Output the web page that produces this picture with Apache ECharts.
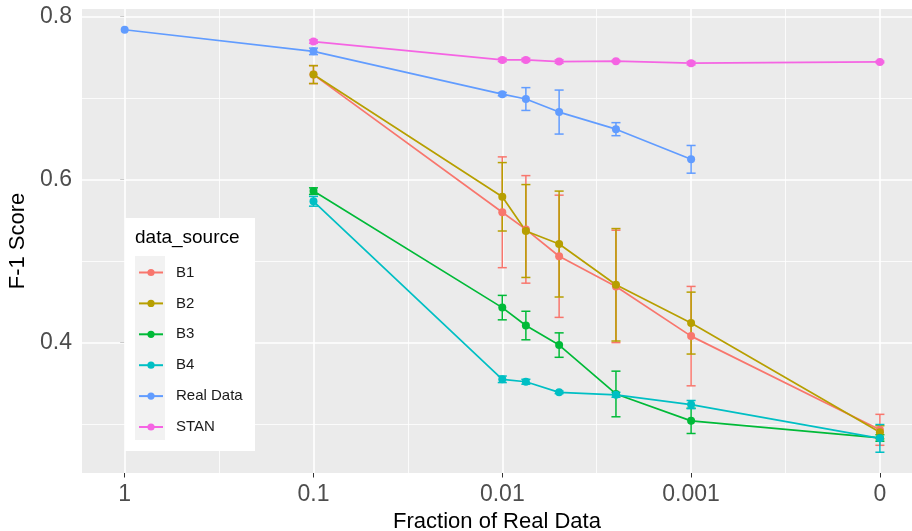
<!DOCTYPE html>
<html>
<head>
<meta charset="utf-8">
<script src="https://cdn.jsdelivr.net/npm/echarts@6/dist/echarts.min.js"></script>
<style>
  html, body { margin: 0; padding: 0; background: #fff; }
  #chart { width: 912px; height: 531px; }
</style>
</head>
<body>
<div id="chart"></div>
<script>
// fraction of real data used, drawn on a reversed log scale (0 sits one decade past 0.001)
const fractions = [1, 0.1, 0.01, 0.0075, 0.005, 0.0025, 0.001, 0]
const xTickValues = [0, 1, 2, 3, 4]
const xTickLabels = ['1', '0.1', '0.01', '0.001', '0']
const yTickValues = [0.4, 0.6, 0.8]

const b1 = [null, 0.729, 0.560, 0.539, 0.506, 0.469, 0.408, 0.293]
const b1Err = [null, 0.011, 0.068, 0.066, 0.075, 0.069, 0.061, 0.019]
const b2 = [null, 0.729, 0.579, 0.537, 0.521, 0.471, 0.424, 0.290]
const b2Err = [null, 0.011, 0.042, 0.057, 0.065, 0.069, 0.038, 0.008]
const b3 = [null, 0.586, 0.443, 0.421, 0.397, 0.337, 0.304, 0.283]
const b3Err = [null, 0.004, 0.015, 0.0175, 0.015, 0.028, 0.0155, 0.004]
const b4 = [null, 0.5735, 0.355, 0.352, 0.339, 0.336, 0.324, 0.2825]
const b4Err = [null, 0.006, 0.004, 0.003, 0.0015, 0.003, 0.005, 0.017]
const realData = [0.784, 0.7575, 0.705, 0.699, 0.683, 0.662, 0.625, null]
const realDataErr = [0, 0.004, 0.002, 0.014, 0.027, 0.008, 0.017, null]
const stan = [null, 0.7695, 0.747, 0.747, 0.745, 0.7455, 0.743, 0.7445]
const stanErr = [null, 0.002, 0.002, 0.002, 0.002, 0.001, 0.002, 0.001]

const groups = [
  { name: 'B1', values: b1, errs: b1Err, color: '#F8766D' },
  { name: 'B2', values: b2, errs: b2Err, color: '#B79F00' },
  { name: 'B3', values: b3, errs: b3Err, color: '#00BA38' },
  { name: 'B4', values: b4, errs: b4Err, color: '#00BFC4' },
  { name: 'Real Data', values: realData, errs: realDataErr, color: '#619CFF' },
  { name: 'STAN', values: stan, errs: stanErr, color: '#F564E3' }
]

const xPos = f => f === 0 ? 4 : -Math.log10(f)
const capHalf = 0.024 // errorbar cap half width, in x units

const lineSeries = g => ({
  name: g.name,
  type: 'line',
  data: fractions.map((f, i) => g.values[i] == null ? null : [xPos(f), g.values[i]]).filter(Boolean),
  symbol: 'circle',
  symbolSize: 8,
  lineStyle: { width: 1.7, color: g.color },
  itemStyle: { color: g.color },
  emphasis: { disabled: true },
  z: 4
})

const errSeries = g => ({
  name: g.name + ' err',
  type: 'custom',
  data: fractions.map((f, i) => g.errs[i] ? [xPos(f), g.values[i] - g.errs[i], g.values[i] + g.errs[i]] : null).filter(Boolean),
  encode: { x: 0, y: [1, 2] },
  renderItem(params, api) {
    const x = api.value(0)
    const lo = api.coord([x, api.value(1)])
    const hi = api.coord([x, api.value(2)])
    const hw = api.size([capHalf, 0])[0]
    const style = { stroke: g.color, lineWidth: 1.5 }
    return {
      type: 'group',
      children: [
        { type: 'line', shape: { x1: lo[0], y1: lo[1], x2: hi[0], y2: hi[1] }, style },
        { type: 'line', shape: { x1: lo[0] - hw, y1: lo[1], x2: lo[0] + hw, y2: lo[1] }, style },
        { type: 'line', shape: { x1: hi[0] - hw, y1: hi[1], x2: hi[0] + hw, y2: hi[1] }, style }
      ]
    }
  },
  z: 3
})

// ggplot style panel grid, major and minor
const major = { color: '#fff', width: 1.6, type: 'solid' }
const minor = { color: '#fff', width: 0.8, type: 'solid' }
const gridSeries = {
  name: 'grid',
  type: 'line',
  data: [],
  silent: true,
  z: 1,
  markLine: {
    z: 1,
    silent: true,
    symbol: 'none',
    label: { show: false },
    animation: false,
    data: [
      ...[0, 1, 2, 3, 4].map(v => ({ xAxis: v, lineStyle: major })),
      ...[0.5, 1.5, 2.5, 3.5].map(v => ({ xAxis: v, lineStyle: minor })),
      ...[0.4, 0.6, 0.8].map(v => ({ yAxis: v, lineStyle: major })),
      ...[0.3, 0.5, 0.7].map(v => ({ yAxis: v, lineStyle: minor }))
    ]
  }
}

const chart = echarts.init(document.getElementById('chart'))
chart.setOption({
  animation: false,
  textStyle: { fontFamily: 'Liberation Sans, Arial, sans-serif' },
  grid: {
    left: 82,
    top: 9,
    right: 0,
    bottom: 58,
    outerBoundsMode: 'none',
    show: true,
    backgroundColor: '#EBEBEB',
    borderWidth: 0
  },
  legend: {
    data: groups.map(g => g.name),
    orient: 'vertical',
    left: 138,
    top: 264.5,
    padding: 0,
    z: 20,
    itemWidth: 24,
    itemHeight: 9,
    itemGap: 14.9,
    selectedMode: false,
    textStyle: { fontSize: 15, lineHeight: 16, color: '#1A1A1A', padding: [0, 0, 0, 8] }
  },
  graphic: [
    { type: 'rect', left: 125, top: 218, shape: { width: 130, height: 233 }, style: { fill: '#fff' }, z: 5 },
    { type: 'rect', left: 135, top: 256, shape: { width: 30, height: 184 }, style: { fill: '#F2F2F2' }, z: 5 },
    { type: 'text', left: 135, top: 228, style: { text: 'data_source', fontSize: 19, fill: '#000', fontFamily: 'Liberation Sans, Arial, sans-serif' }, z: 5 }
  ],
  xAxis: {
    type: 'value',
    min: -0.226,
    max: 4.17,
    name: 'Fraction of Real Data',
    nameLocation: 'middle',
    nameGap: 36,
    nameTextStyle: { fontSize: 22, color: '#000' },
    axisLine: { show: false },
    splitLine: { show: false },
    axisTick: { show: true, customValues: xTickValues, length: 4.5, lineStyle: { color: '#333' } },
    axisLabel: {
      customValues: xTickValues,
      fontSize: 23,
      color: '#4D4D4D',
      margin: 10,
      formatter: v => xTickLabels[xTickValues.indexOf(Math.round(v))]
    }
  },
  yAxis: {
    type: 'value',
    min: 0.24,
    max: 0.8095,
    name: 'F-1 Score',
    nameLocation: 'middle',
    nameGap: 46,
    nameTextStyle: { fontSize: 22, color: '#000' },
    axisLine: { show: false },
    splitLine: { show: false },
    axisTick: { show: true, customValues: yTickValues, length: 4.5, lineStyle: { color: '#333' } },
    axisLabel: {
      customValues: yTickValues,
      fontSize: 23,
      color: '#4D4D4D',
      margin: 10,
      formatter: v => v.toFixed(1)
    }
  },
  series: [gridSeries, ...groups.map(errSeries), ...groups.map(lineSeries)]
})
</script>
</body>
</html>
